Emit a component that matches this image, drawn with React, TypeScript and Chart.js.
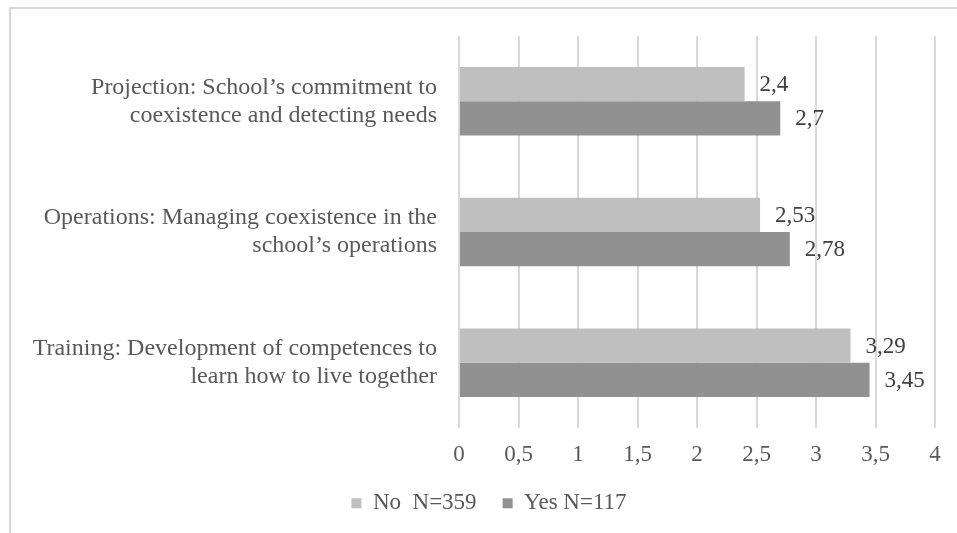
import React, { useEffect, useRef } from "react";
import { Chart, registerables } from "chart.js";

Chart.register(...registerables);

const categories: string[][] = [
  ["Projection: School\u2019s commitment to", "coexistence and detecting needs"],
  ["Operations: Managing coexistence in the", "school\u2019s operations"],
  ["Training: Development of competences to", "learn how to live together"],
];
const seriesNames = ["No  N=359", "Yes N=117"];
const noValues = [2.4, 2.53, 3.29];
const yesValues = [2.7, 2.78, 3.45];
const xTicks = [0, 0.5, 1, 1.5, 2, 2.5, 3, 3.5, 4];

const FONT = "'Liberation Serif', 'Times New Roman', serif";
const fmt = (v: number) => String(v).replace(".", ",");

const dataLabels = {
  id: "dataLabels",
  afterDatasetsDraw(chart: any) {
    const ctx = chart.ctx;
    ctx.save();
    ctx.font = `23px ${FONT}`;
    ctx.fillStyle = "#404040";
    ctx.textAlign = "left";
    ctx.textBaseline = "middle";
    chart.data.datasets.forEach((ds: any, di: number) => {
      const meta = chart.getDatasetMeta(di);
      meta.data.forEach((bar: any, i: number) => {
        ctx.fillText(fmt(ds.data[i]), bar.x + 15, bar.y + 1);
      });
    });
    ctx.restore();
  },
};

const legendPlacement = {
  id: "legendPlacement",
  afterLayout(chart: any) {
    const lg = chart.legend;
    if (!lg) return;
    lg.left = 43;
    lg.top -= 8.2;
    lg.bottom -= 8.2;
  },
};

export default function App() {
  const ref = useRef<HTMLCanvasElement>(null);
  useEffect(() => {
    const chart = new Chart(ref.current!, {
      type: "bar",
      data: {
        labels: categories,
        datasets: [
          {
            label: seriesNames[0],
            data: noValues,
            backgroundColor: "#BFBFBF",
            categoryPercentage: 0.524,
            barPercentage: 1,
          },
          {
            label: seriesNames[1],
            data: yesValues,
            backgroundColor: "#919191",
            categoryPercentage: 0.524,
            barPercentage: 1,
          },
        ],
      },
      options: {
        indexAxis: "y",
        animation: false,
        responsive: false,
        maintainAspectRatio: false,
        layout: { padding: { top: 36, right: 22, left: 0, bottom: 0 } },
        scales: {
          x: {
            min: 0,
            max: 4,
            afterBuildTicks: (s: any) => {
              s.ticks = xTicks.map((v) => ({ value: v }));
            },
            afterFit: (s: any) => {
              s.height = 46;
              s.paddingLeft = 0;
              s.paddingRight = 0;
            },
            ticks: {
              color: "#595959",
              font: { family: FONT, size: 23 },
              padding: 13,
              callback: (v: any) => fmt(Number(v)),
            },
            grid: { color: "#D9D9D9", lineWidth: 2, drawTicks: false },
            border: { display: false },
          },
          y: {
            afterFit: (s: any) => {
              s.width = 459;
              s.paddingTop = 0;
              s.paddingBottom = 0;
            },
            ticks: {
              color: "#595959",
              font: { family: FONT, size: 24, lineHeight: 1.1667 },
              padding: 22,
            },
            grid: { display: false, drawTicks: false },
            border: { display: false },
          },
        },
        plugins: {
          legend: {
            position: "bottom",
            labels: {
              color: "#595959",
              font: { family: FONT, size: 23 },
              boxWidth: 10,
              boxHeight: 10,
              padding: 26,
            },
          },
          tooltip: { enabled: false },
        },
      },
      plugins: [dataLabels, legendPlacement],
    });
    return () => chart.destroy();
  }, []);
  return (
    <div style={{ position: "absolute", left: 0, top: 0, width: 957, height: 533, overflow: "hidden", background: "#fff" }}>
      <div
        style={{
          position: "absolute",
          left: 9,
          top: 7,
          width: 2000,
          height: 2000,
          borderTop: "2px solid #D9D9D9",
          borderLeft: "2px solid #D9D9D9",
        }}
      />
      <canvas ref={ref} width={957} height={533} style={{ position: "absolute", left: 0, top: 0 }} />
    </div>
  );
}
